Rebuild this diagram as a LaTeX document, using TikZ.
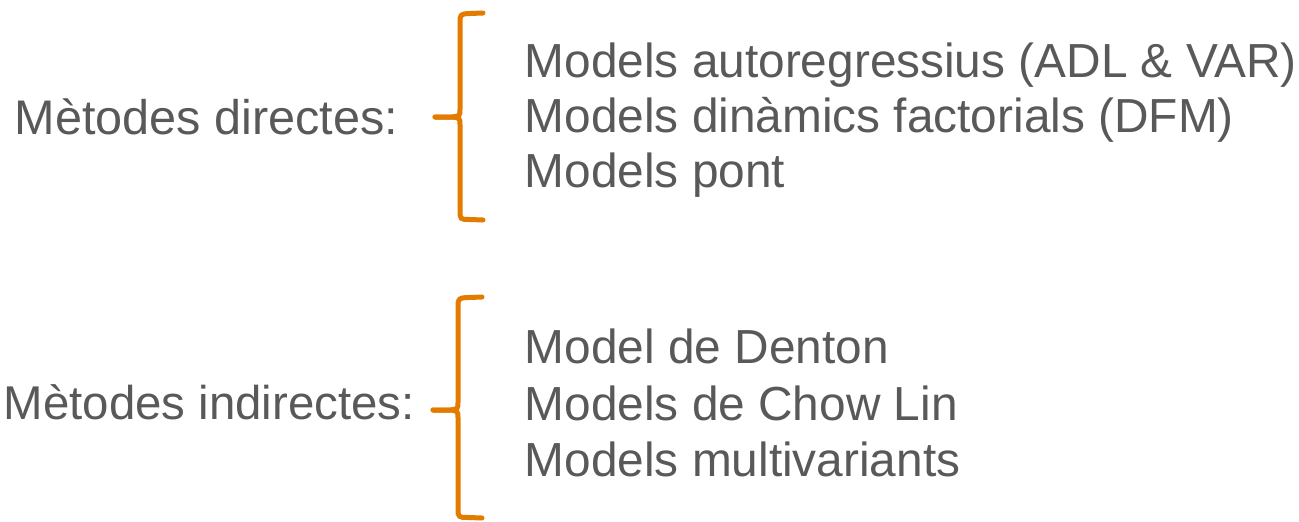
\documentclass[tikz,border=0pt]{standalone}
\usepackage{fontspec}
\setmainfont{Liberation Sans}
\definecolor{txtgray}{HTML}{595959}
\definecolor{braceorange}{HTML}{E37B00}
\begin{document}
\begin{tikzpicture}[x=1pt,y=-1pt,
  lbl/.style={anchor=base west,inner sep=0pt,text=txtgray,font=\fontsize{47.8pt}{56pt}\selectfont},
  llbl/.style={lbl,font=\fontsize{48.6pt}{56pt}\selectfont},
  lbllow/.style={lbl,font=\fontsize{47.4pt}{56pt}\selectfont},
  bracestyle/.style={draw=braceorange,line width=5pt,line cap=round,line join=round}]
\useasboundingbox (0,0) rectangle (1299,522);
% left labels
\node[llbl] (ld) at (14.5,134) {Mètodes directes:};
\node[lbllow] (li) at (3.5,419) {Mètodes indirectes:};
% right items
\node[lbl] (a1) at (524.5,77) {Models autoregressius (ADL \& VAR)};
\node[lbl] (a2) at (524.5,132) {Models dinàmics factorials (DFM)};
\node[lbl] (a3) at (524.5,187) {Models pont};
\node[lbl] (b1) at (524.5,363) {Model de Denton};
\node[lbl] (b2) at (524.5,420) {Models de Chow Lin};
\node[lbl] (b3) at (524.5,476.5) {Models multivariants};
% braces
\draw[bracestyle] (483,13) -- (470,13.5) .. controls (460,14) .. (460,24) -- (460,109)
  .. controls (460,116) .. (452,117) -- (435,117);
\draw[bracestyle] (435,117) -- (452,117) .. controls (460,118) .. (460,125) -- (460,210)
  .. controls (460,219.5) .. (470,219.5) -- (483,220);
\draw[bracestyle] (482,297) -- (469,297.5) .. controls (458,298) .. (458,308) -- (458,402)
  .. controls (458,409) .. (450,410) -- (433,410);
\draw[bracestyle] (433,410) -- (450,410) .. controls (458,411) .. (458,418) -- (458,508)
  .. controls (458,517.5) .. (469,517.5) -- (482,518);
\end{tikzpicture}
\end{document}
